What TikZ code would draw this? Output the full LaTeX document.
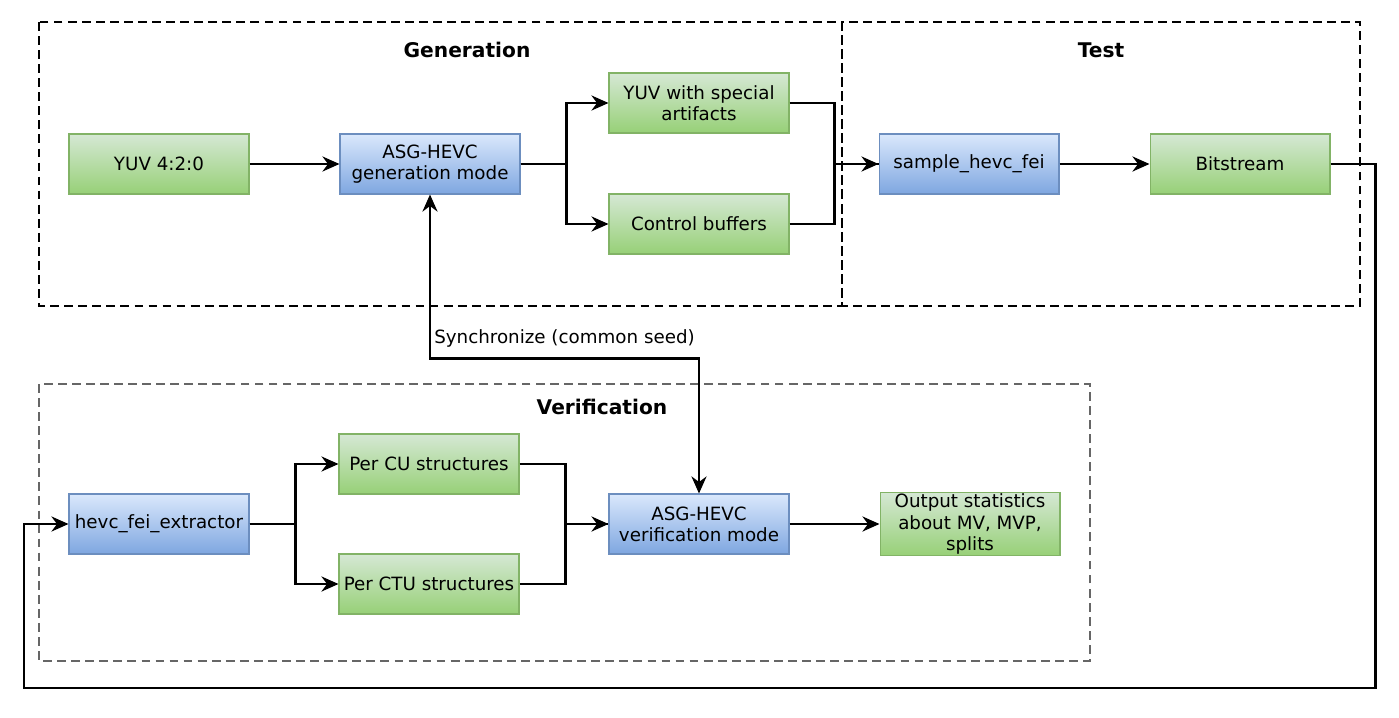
\documentclass[tikz,border=0pt]{standalone}
\usepackage{fontspec}
\setmainfont{DejaVu Sans}
\usetikzlibrary{positioning, arrows.meta}

\definecolor{greentop}{HTML}{D5E8D4}
\definecolor{greenbot}{HTML}{97D077}
\definecolor{greenline}{HTML}{82B366}
\definecolor{bluetop}{HTML}{DAE8FC}
\definecolor{bluebot}{HTML}{7EA6E0}
\definecolor{blueline}{HTML}{6C8EBF}
\definecolor{frameg}{HTML}{666666}

\tikzset{
  box/.style={rectangle, minimum width=3.6cm, minimum height=1.2cm, inner sep=1pt,
    align=center, font=\fontsize{10.4}{12}\selectfont, line width=0.6pt},
  greenbox/.style={box, draw=greenline, top color=greentop, bottom color=greenbot},
  bluebox/.style={box, draw=blueline, top color=bluetop, bottom color=bluebot},
  frame/.style={draw=black, line width=1.5pt, dash pattern=on 5pt off 3pt},
  grayframe/.style={frame, draw=frameg},
  title/.style={font=\fontsize{11.5}{14}\selectfont\bfseries},
  line/.style={draw=black, line width=1.6pt},
  tip/.tip={Stealth[length=3.4mm, width=3mm]},
  arr/.style={line, -tip},
}

\begin{document}
\begin{tikzpicture}[x=0.02cm, y=-0.02cm, node distance=1.8cm]

\useasboundingbox (0,0) rectangle (1399,717);

\draw[frame] (39,22) rectangle (842,306);
\draw[frame] (842,22) rectangle (1360,306);
\draw[grayframe] (39,384) rectangle (1090,661);

\node[title] (tgen) at (467,50) {Generation};
\node[title] (ttest) at (1101,50) {Test};
\node[title] (tver) at (602,407) {Verification};

% generation and test
\node[greenbox] (yuv) at (159,164) {YUV 4:2:0};
\node[bluebox, right=of yuv] (gen) {ASG-HEVC\\generation mode};
\node[greenbox] (spec) at (699,103) {YUV with special\\artifacts};
\node[greenbox] (ctrl) at (699,224) {Control buffers};
\node[bluebox] (sample) at (969,164) {sample\_hevc\_fei};
\node[greenbox, right=of sample] (bits) {Bitstream};

% verification
\node[bluebox] (extr) at (159,524) {hevc\_fei\_extractor};
\node[greenbox] (cu) at (429,464) {Per CU structures};
\node[greenbox] (ctu) at (429,584) {Per CTU structures};
\node[bluebox] (ver) at (699,524) {ASG-HEVC\\verification mode};
\node[greenbox, right=of ver] (out) {Output statistics\\about MV, MVP,\\splits};

\coordinate (loop) at (24,688);

\draw[arr] (yuv) -- (gen);
\draw[arr] (gen.east) -- ++(46,0) |- (spec.west);
\draw[arr] (gen.east) -- ++(46,0) |- (ctrl.west);
\draw[arr] (spec.east) -- ++(45,0) |- (sample.west);
\draw[line] (ctrl.east) -- ++(45,0) |- (sample.west);
\draw[arr] (sample) -- (bits);
\draw[arr] (bits.east) -- ++(45,0) |- (loop) |- (extr.west);

\draw[arr] (extr.east) -- ++(46,0) |- (cu.west);
\draw[arr] (extr.east) -- ++(46,0) |- (ctu.west);
\draw[arr] (cu.east) -- ++(46,0) |- (ver.west);
\draw[line] (ctu.east) -- ++(46,0) |- (ver.west);
\draw[arr] (ver) -- (out);

\draw[line, tip-tip] (gen.south) -- ++(0,164) -| (ver.north)
  node[pos=0.25, above=2.5pt, font=\fontsize{10.4}{12}\selectfont] (sync) {Synchronize (common seed)};

\end{tikzpicture}
\end{document}
